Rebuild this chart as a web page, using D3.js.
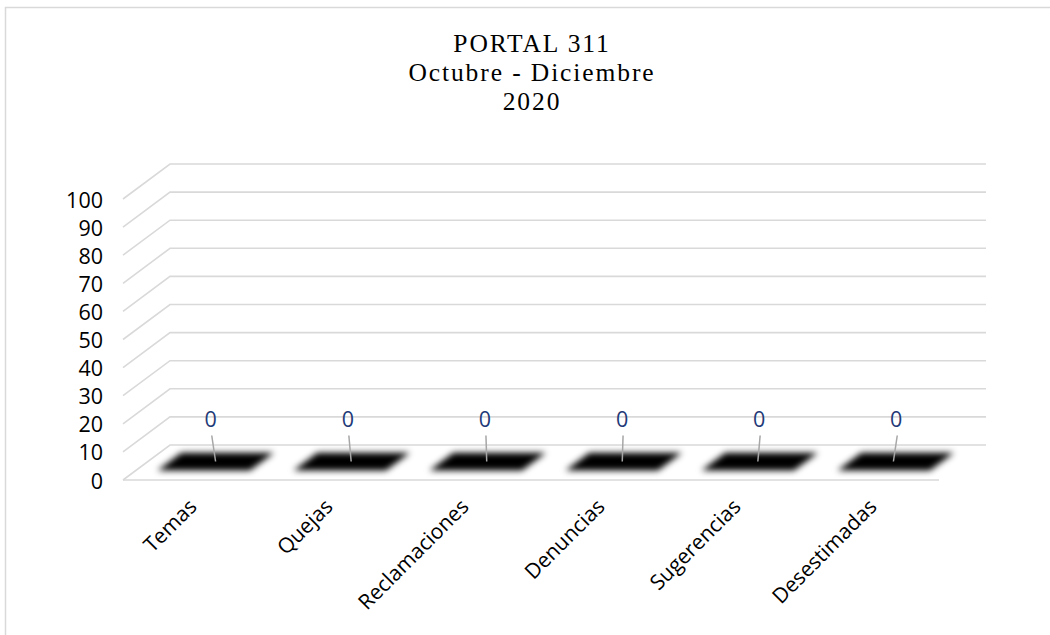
<!DOCTYPE html>
<html>
<head>
<meta charset="utf-8">
<script src="https://cdn.jsdelivr.net/npm/d3@7"></script>
<style>
  html, body { margin: 0; padding: 0; background: #fff; }
  svg { display: block; }
</style>
</head>
<body>
<svg id="chart" width="1050" height="635"></svg>
<script>
// ---- data ----
const categories = ["Temas", "Quejas", "Reclamaciones", "Denuncias", "Sugerencias", "Desestimadas"];
const values = [0, 0, 0, 0, 0, 0];
const yTicks = [0, 10, 20, 30, 40, 50, 60, 70, 80, 90, 100];
const titleLines = ["PORTAL 311", "Octubre - Diciembre", "2020"];

const W = 1050, H = 635;
const svg = d3.select("#chart");

// 3D depth offset
const DX = 47, DY = -35;

const x = d3.scaleBand().domain(categories).range([123, 939]).paddingInner(0).paddingOuter(0);
const y = d3.scaleLinear().domain([0, 100]).range([480, 199]);

// blur filter for the flat bars
const defs = svg.append("defs");
defs.append("filter").attr("id", "blur").attr("x", "-20%").attr("y", "-60%").attr("width", "140%").attr("height", "220%")
  .append("feGaussianBlur").attr("stdDeviation", 3.3);

// border
svg.append("rect").attr("x", 5.5).attr("y", 7.5).attr("width", W).attr("height", H)
  .attr("fill", "none").attr("stroke", "#d9d9d9").attr("stroke-width", 1.5);

// title (three separate lines)
titleLines.forEach((t, i) => {
  svg.append("text").attr("text-anchor", "middle")
    .attr("font-family", "'Liberation Serif', 'DejaVu Serif', serif")
    .attr("font-size", 25.5).attr("letter-spacing", 1.9).attr("fill", "#000")
    .attr("x", 532).attr("y", 52 + i * 29).text(t);
});

// gridlines: side wall diagonal + back wall horizontal
const grid = svg.append("g").attr("stroke", "#d9d9d9").attr("stroke-width", 1.6).attr("fill", "none");
const x0 = x.range()[0], x1 = x.range()[1];
yTicks.forEach(v => {
  const yf = y(v);
  grid.append("path").attr("d", `M${x0},${yf}L${x0 + DX},${yf + DY}L${x1 + DX},${yf + DY}`);
});
// floor front edge
grid.append("line").attr("x1", x0).attr("x2", x1).attr("y1", y(0)).attr("y2", y(0));

// y axis labels
svg.append("g").selectAll("text").data(yTicks).join("text")
  .attr("x", 103).attr("y", d => y(d) + 1).attr("dy", "0.35em")
  .attr("text-anchor", "end")
  .attr("font-family", "'Open Sans', sans-serif").attr("font-size", 21.5).attr("fill", "#000")
  .text(d => d);

// bars (zero height -> flat parallelograms on the floor)
const depthFront = 0.27, depthBack = 0.78;
const barW = x.bandwidth() * 0.68;
const bars = svg.append("g").attr("filter", "url(#blur)");
categories.forEach((c, i) => {
  const cx = x(c) + x.bandwidth() / 2;
  const yb = y(values[i]);
  const l = cx - barW / 2, r = cx + barW / 2;
  const p = (px, d) => [px + DX * d, yb + DY * d];
  const pts = [p(l, depthFront), p(r, depthFront), p(r, depthBack), p(l, depthBack)];
  bars.append("path").attr("d", "M" + pts.map(q => q.join(",")).join("L") + "Z").attr("fill", "#000");
});

// data labels with leader lines
categories.forEach((c, i) => {
  const cx = x(c) + x.bandwidth() / 2 + DX * 0.5;
  const yb = y(values[i]) + DY * 0.5;
  const tilt = (i - 2.5) * 1.1;
  svg.append("line").attr("x1", cx - tilt * 0.4).attr("y1", yb - 1)
    .attr("x2", cx + tilt).attr("y2", yb - 27)
    .attr("stroke", "#a6a6a6").attr("stroke-width", 1.5);
  svg.append("text").attr("x", cx + tilt - 1).attr("y", yb - 36)
    .attr("text-anchor", "middle")
    .attr("font-family", "'Open Sans', sans-serif").attr("font-size", 21.5).attr("fill", "#1f3a78")
    .text(values[i]);
});

// x axis labels rotated
svg.append("g").selectAll("text").data(categories).join("text")
  .attr("text-anchor", "end")
  .attr("font-family", "'Open Sans', sans-serif").attr("font-size", 21).attr("fill", "#000")
  .attr("transform", d => `translate(${x(d) + x.bandwidth() / 2 + 7},${508}) rotate(-45)`)
  .text(d => d);
</script>
</body>
</html>
